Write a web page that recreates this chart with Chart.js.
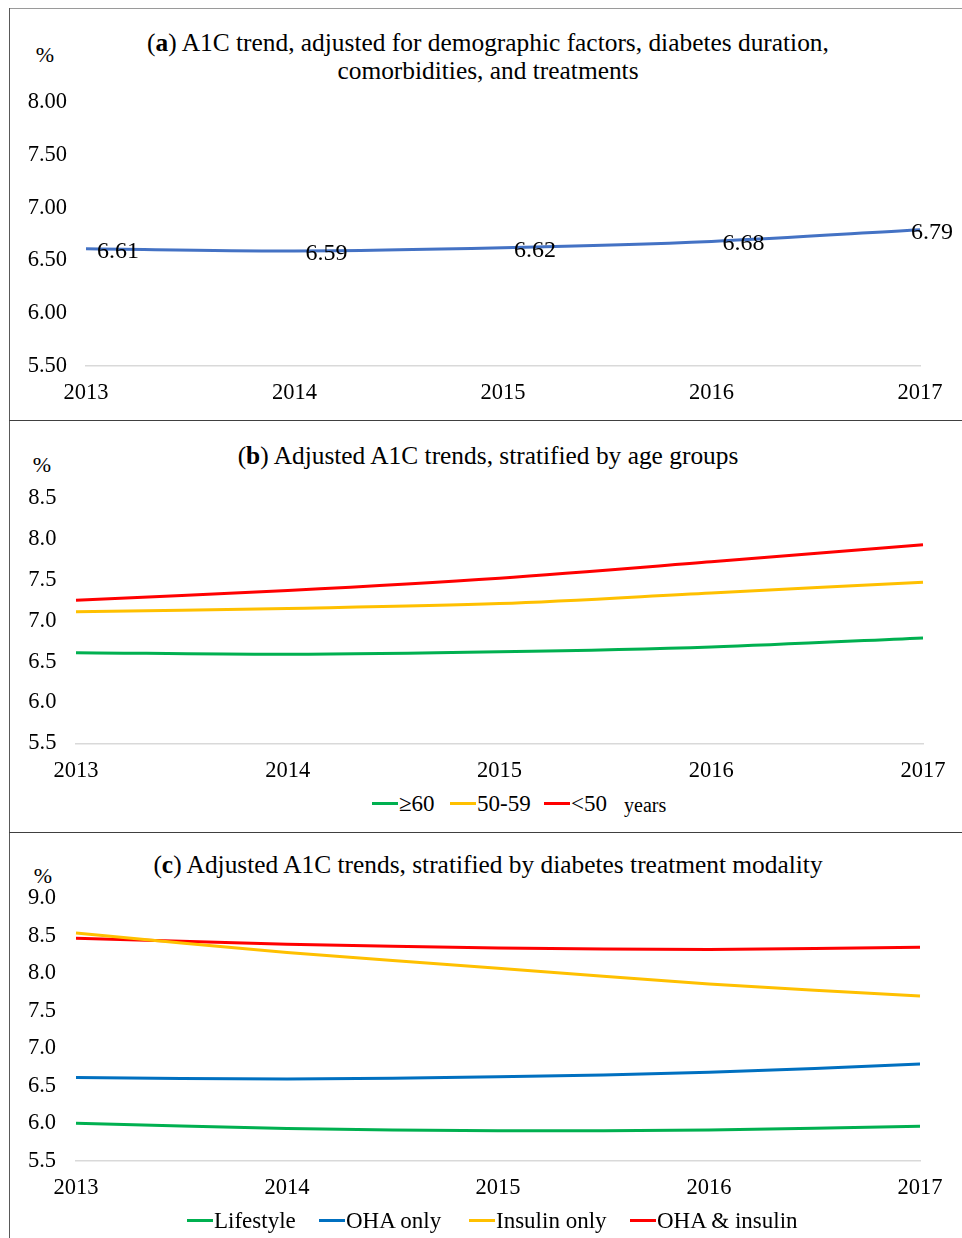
<!DOCTYPE html>
<html><head><meta charset="utf-8">
<script src="https://cdn.jsdelivr.net/npm/chart.js@4.4.1/dist/chart.umd.min.js"></script>
<style>
html,body{margin:0;padding:0;background:#fff;}
body{width:962px;height:1238px;position:relative;overflow:hidden;font-family:"Liberation Serif","Times New Roman",serif;color:#000;}
.abs{position:absolute;}
.title{position:absolute;left:0;width:976px;text-align:center;font-size:25.4px;line-height:28px;white-space:nowrap;}
.pct{position:absolute;font-size:22px;line-height:22px;width:30px;text-align:center;}
.leg-line{position:absolute;width:26px;height:3px;}
.leg-text{position:absolute;font-size:23px;line-height:23px;white-space:nowrap;}
.cv{position:absolute;left:10px;width:952px;}
</style></head><body>
<div class="abs" style="left:9px;top:8px;width:953px;height:0;border-top:1.5px solid #9a9a9a"></div>
<div class="abs" style="left:9px;top:8px;width:0;height:1230px;border-left:1.5px solid #595959"></div>
<div class="abs" style="left:9px;top:420px;width:953px;height:0;border-top:1.5px solid #404040"></div>
<div class="abs" style="left:9px;top:832px;width:953px;height:0;border-top:1.5px solid #404040"></div>

<div class="title" style="top:28px">(<b>a</b>) A1C trend, adjusted for demographic factors, diabetes duration,<br>comorbidities, and treatments</div>
<div class="title" style="top:441px">(<b>b</b>) Adjusted A1C trends, stratified by age groups</div>
<div class="title" style="top:850px">(<b>c</b>) Adjusted A1C trends, stratified by diabetes treatment modality</div>

<div class="pct" style="left:30px;top:44px">%</div>
<div class="pct" style="left:27px;top:454px">%</div>
<div class="pct" style="left:28px;top:865px">%</div>

<div class="cv" style="top:80px;height:330px"><canvas id="ca"></canvas></div>
<div class="cv" style="top:480px;height:310px"><canvas id="cb"></canvas></div>
<div class="cv" style="top:880px;height:330px"><canvas id="cc"></canvas></div>

<div id="legB"></div>
<div id="legC"></div>

<script>
// ---------- data ----------
const years = ['2013', '2014', '2015', '2016', '2017'];

// panel (a)
const overallA1C = [6.61, 6.59, 6.62, 6.68, 6.79];

// panel (b) age groups
const ageNames = ['\u226560', '50-59', '<50'];
const age60plus = [6.61, 6.59, 6.62, 6.68, 6.79];
const age50to59 = [7.11, 7.15, 7.21, 7.34, 7.47];
const ageUnder50 = [7.25, 7.37, 7.52, 7.72, 7.93];

// panel (c) treatment modality
const treatNames = ['Lifestyle', 'OHA only', 'Insulin only', 'OHA & insulin'];
const lifestyle = [6.00, 5.93, 5.90, 5.91, 5.96];
const ohaOnly = [6.61, 6.59, 6.62, 6.68, 6.79];
const insulinOnly = [8.54, 8.28, 8.07, 7.86, 7.70];
const ohaInsulin = [8.47, 8.39, 8.34, 8.32, 8.35];

// y tick ranges
const yA = {min: 5.5, max: 8.0, step: 0.5, dec: 2};
const yB = {min: 5.5, max: 8.5, step: 0.5, dec: 1};
const yC = {min: 5.5, max: 9.0, step: 0.5, dec: 1};

// ---------- styles ----------
const SERIF = '"Liberation Serif", "Times New Roman", serif';
const GREEN = '#00B050', ORANGE = '#FFC000', RED = '#FF0000', BLUE = '#0070C0', BLUE_A = '#4472C4';

const dataLabelPlugin = {
  id: 'dataLabels',
  afterDatasetsDraw(chart) {
    const ctx = chart.ctx;
    const meta = chart.getDatasetMeta(0);
    const data = chart.data.datasets[0].data;
    ctx.save();
    ctx.font = '24px ' + SERIF;
    ctx.fillStyle = '#000';
    ctx.textAlign = 'left';
    ctx.textBaseline = 'middle';
    meta.data.forEach((pt, i) => {
      const txt = Number(data[i]).toFixed(2);
      const w = ctx.measureText(txt).width;
      let x = pt.x + 11;
      if (x + w > chart.width - 9) x = chart.width - 9 - w;
      ctx.fillText(txt, x, pt.y + 2.5);
    });
    ctx.restore();
  }
};

function makeChart(id, series, o) {
  return new Chart(document.getElementById(id), {
    type: 'line',
    data: {
      labels: years,
      datasets: series.map(s => ({
        label: s.label, data: s.data, borderColor: s.color, backgroundColor: s.color,
        borderWidth: 3, pointRadius: 0, pointHoverRadius: 0, tension: 0.33, fill: false
      }))
    },
    options: {
      responsive: true, maintainAspectRatio: false, animation: false,
      events: [],
      layout: {padding: {left: 0, right: o.padRight, top: o.padTop, bottom: 0}},
      plugins: {legend: {display: false}, title: {display: false}, tooltip: {enabled: false}},
      scales: {
        x: {
          grid: {display: false, drawTicks: false},
          border: {display: true, color: '#d9d9d9', width: 1.5},
          ticks: {color: '#000', font: {family: SERIF, size: 22.5}, padding: 14, maxRotation: 0, autoSkip: false},
          afterFit: s => { s.height = o.xH; s.paddingLeft = 0; s.paddingRight = 0; }
        },
        y: {
          min: o.y.min, max: o.y.max,
          grid: {display: false, drawTicks: false},
          border: {display: false},
          ticks: {stepSize: o.y.step, color: '#000', font: {family: SERIF, size: 22.5}, padding: o.yPad,
                  callback: v => Number(v).toFixed(o.y.dec)},
          afterFit: s => { s.width = o.yW; s.paddingTop = 0; s.paddingBottom = 0; }
        }
      }
    },
    plugins: o.plugins || []
  });
}

function buildAll() {
  makeChart('ca', [{label: 'A1C', data: overallA1C, color: BLUE_A}],
    {padRight: 42, padTop: 22, xH: 44, yW: 76, yPad: 19, y: yA, plugins: [dataLabelPlugin]});

  makeChart('cb', [
    {label: ageNames[0], data: age60plus, color: GREEN},
    {label: ageNames[1], data: age50to59, color: ORANGE},
    {label: ageNames[2], data: ageUnder50, color: RED}
  ], {padRight: 39, padTop: 18, xH: 46.5, yW: 66, yPad: 19.6, y: yB});

  makeChart('cc', [
    {label: treatNames[0], data: lifestyle, color: GREEN},
    {label: treatNames[1], data: ohaOnly, color: BLUE},
    {label: treatNames[2], data: insulinOnly, color: ORANGE},
    {label: treatNames[3], data: ohaInsulin, color: RED}
  ], {padRight: 42, padTop: 18.5, xH: 49.3, yW: 66, yPad: 20, y: yC});
}

// ---------- legends (HTML) ----------
function buildLegend(hostId, names, colors, xs, lineY, extra) {
  const host = document.getElementById(hostId);
  names.forEach((n, i) => {
    const l = document.createElement('div');
    l.className = 'leg-line';
    l.style.left = xs[i] + 'px';
    l.style.top = (lineY - 1.5) + 'px';
    l.style.background = colors[i];
    host.appendChild(l);
    const t = document.createElement('div');
    t.className = 'leg-text';
    t.style.left = (xs[i] + 27) + 'px';
    t.style.top = (lineY - 11) + 'px';
    t.textContent = n;
    host.appendChild(t);
  });
  if (extra) {
    const t = document.createElement('div');
    t.className = 'leg-text';
    t.style.left = extra.x + 'px';
    t.style.top = (lineY - 9) + 'px';
    t.style.fontSize = '20px';
    t.textContent = extra.text;
    host.appendChild(t);
  }
}
buildLegend('legB', ageNames, [GREEN, ORANGE, RED], [372, 450, 544], 803, {x: 624, text: 'years'});
buildLegend('legC', treatNames, [GREEN, BLUE, ORANGE, RED], [187, 319, 469, 630], 1220);

if (document.fonts && document.fonts.load) {
  Promise.all([document.fonts.load('24px "Liberation Serif"'), document.fonts.load('bold 24px "Liberation Serif"')])
    .then(buildAll, buildAll);
} else {
  buildAll();
}
</script>
</body></html>
